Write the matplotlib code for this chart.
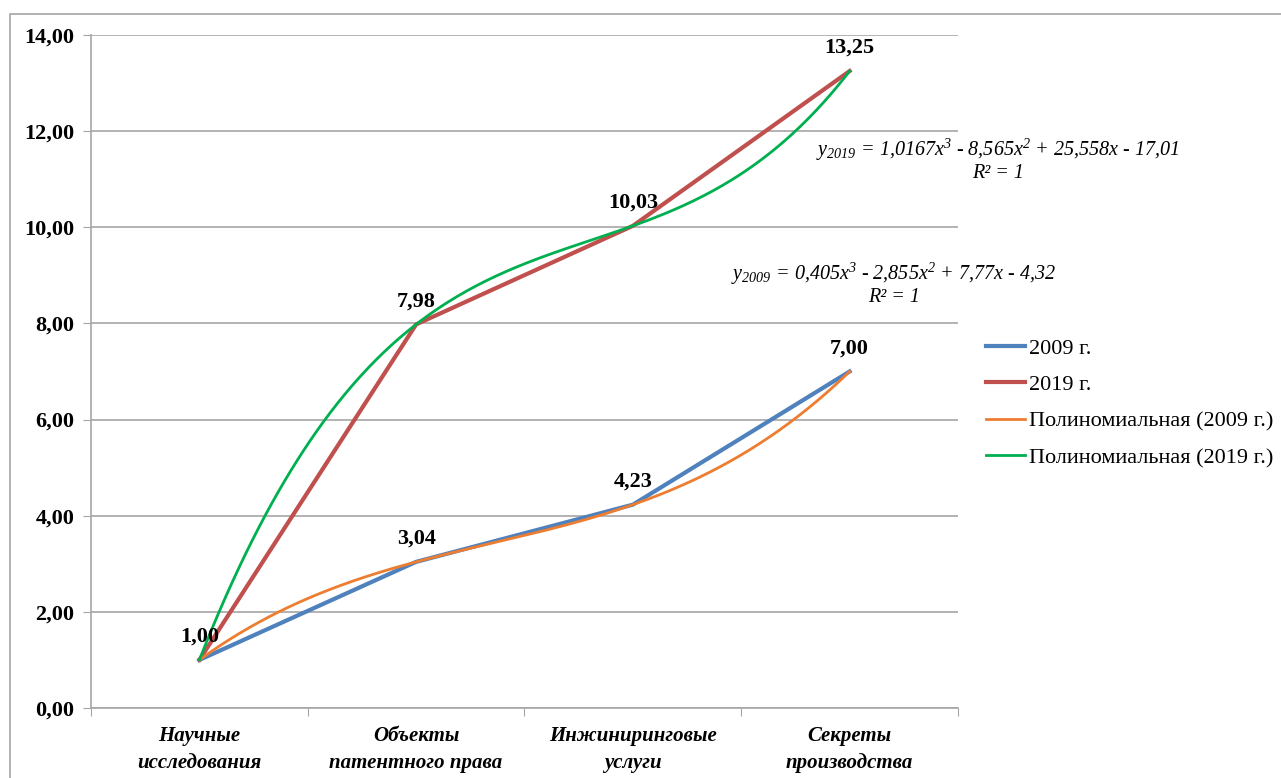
import numpy as np
import matplotlib
matplotlib.use("Agg")
import matplotlib.pyplot as plt
from matplotlib.patches import Rectangle
from matplotlib.ticker import FuncFormatter

# data
categories = ["Научные\nисследования", "Объекты\nпатентного права",
              "Инжиниринговые\nуслуги", "Секреты\nпроизводства"]
vals_2009 = [1.00, 3.04, 4.23, 7.00]
vals_2019 = [1.00, 7.98, 10.03, 13.25]
eq_2009 = "y$_{2009}$ = 0,405x$^{3}$ - 2,855x$^{2}$ + 7,77x - 4,32"
eq_2019 = "y$_{2019}$ = 1,0167x$^{3}$ - 8,565x$^{2}$ + 25,558x - 17,01"

plt.rcParams["font.family"] = ["Liberation Serif", "DejaVu Serif"]
plt.rcParams["mathtext.fontset"] = "custom"
plt.rcParams["mathtext.rm"] = "Liberation Serif:italic"
plt.rcParams["mathtext.it"] = "Liberation Serif:italic"

c_blue = "#4F81BD"
c_red = "#C0504D"
c_orange = "#ED7D31"
c_green = "#00B050"
c_grid = "#A6A6A6"

W, H = 1281, 778
fig = plt.figure(figsize=(W / 100, H / 100), dpi=100)
ax = fig.add_axes([91 / W, 1 - 708 / H, (958 - 91) / W, (708 - 35) / H])

# outer chart frame
fig.patches.append(Rectangle((10 / W, -0.1), 1.2, 1 - 14 / H + 0.1,
                             transform=fig.transFigure, fill=False,
                             edgecolor=c_grid, lw=1.2))

x = np.arange(1, len(categories) + 1)
ax.plot(x, vals_2009, color=c_blue, lw=3, label="2009 г.", zorder=3)
ax.plot(x, vals_2019, color=c_red, lw=3, label="2019 г.", zorder=3)

# cubic trendlines fitted to the data
xs = np.linspace(1, 4, 200)
p09 = np.polyfit(x, vals_2009, 3)
p19 = np.polyfit(x, vals_2019, 3)
ax.plot(xs, np.polyval(p09, xs), color=c_orange, lw=2,
        label="Полиномиальная (2009 г.)", zorder=4)
ax.plot(xs, np.polyval(p19, xs), color=c_green, lw=2,
        label="Полиномиальная (2019 г.)", zorder=4)

# data labels
for xi, v in zip(x, vals_2009):
    ax.annotate(f"{v:.2f}".replace(".", ","), (xi, v), xytext=(0, 13),
                textcoords="offset points", ha="center", va="baseline",
                fontsize=16, fontweight="bold", zorder=5)
for xi, v in zip(x[1:], vals_2019[1:]):
    ax.annotate(f"{v:.2f}".replace(".", ","), (xi, v), xytext=(0, 13),
                textcoords="offset points", ha="center", va="baseline",
                fontsize=16, fontweight="bold", zorder=5)

ax.set_xlim(0.5, 4.5)
ax.set_ylim(0, 14)
ax.set_yticks(np.arange(0, 15, 2))
ax.yaxis.set_major_formatter(FuncFormatter(lambda v, p: f"{v:.2f}".replace(".", ",")))
ax.set_xticks(np.arange(0.5, 4.6, 1))
ax.set_xticklabels([])
ax.set_xticks(x, minor=True)
ax.set_xticklabels(categories, minor=True, fontsize=15, fontweight="bold",
                   style="italic", linespacing=1.45)
ax.tick_params(axis="x", which="minor", length=0, pad=13)
ax.tick_params(axis="x", which="major", length=6, color=c_grid, direction="out")
ax.tick_params(axis="y", length=6, color=c_grid, labelsize=16, pad=6)
for lbl in ax.get_yticklabels():
    lbl.set_fontweight("bold")

ax.grid(axis="y", color=c_grid, lw=1.2)
ax.set_axisbelow(True)
for s in ["top", "right"]:
    ax.spines[s].set_visible(False)
for s in ["left", "bottom"]:
    ax.spines[s].set_color(c_grid)
    ax.spines[s].set_linewidth(1.2)

# trendline equations
fig.text(998 / W, 1 - 150 / H, eq_2019, ha="center", va="center",
         fontsize=14.5, style="italic")
fig.text(998 / W, 1 - 174 / H, "R² = 1", ha="center", va="center",
         fontsize=14.5, style="italic")
fig.text(894 / W, 1 - 274 / H, eq_2009, ha="center", va="center",
         fontsize=14.5, style="italic")
fig.text(894 / W, 1 - 298 / H, "R² = 1", ha="center", va="center",
         fontsize=14.5, style="italic")

fig.legend(loc="upper left", bbox_to_anchor=(986 / W, 1 - 338 / H),
           frameon=False, fontsize=16, handlelength=1.75, handletextpad=0.2,
           labelspacing=0.72, borderpad=0, borderaxespad=0)

fig.savefig("out.png", dpi=100)
